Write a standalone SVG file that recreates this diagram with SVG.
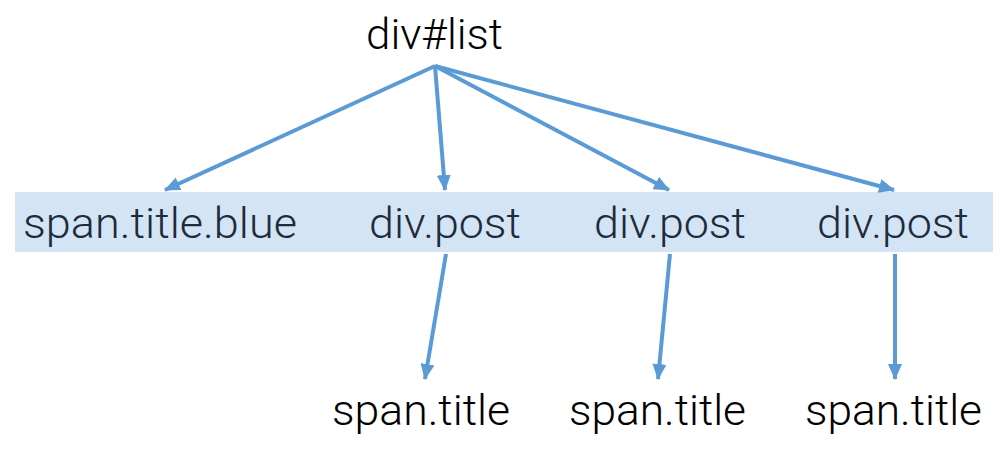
<svg xmlns="http://www.w3.org/2000/svg" width="1006" height="452" viewBox="0 0 1006 452">
<defs>
<marker id="ah" markerUnits="userSpaceOnUse" markerWidth="16" markerHeight="14" refX="15" refY="7" orient="auto">
<path d="M0,0 L16,7 L0,14 Z" fill="#5b9bd5"/>
</marker>
<style>
.t{font-family:Roboto,"Liberation Sans",Arial,sans-serif;font-size:42px;font-weight:300}
.band{fill:#1e2b3a}
.plain{fill:#000}
.e{stroke:#5b9bd5;stroke-width:4;fill:none;marker-end:url(#ah)}
</style>
</defs>
<rect x="15" y="192" width="978" height="60" fill="#d3e4f4"/>
<g id="connectors">
<line class="e" x1="435" y1="66" x2="165" y2="190"/>
<line class="e" x1="435" y1="66" x2="445" y2="190"/>
<line class="e" x1="435" y1="66" x2="669" y2="190"/>
<line class="e" x1="435" y1="66" x2="894" y2="190"/>
<line class="e" x1="446" y1="254" x2="425" y2="379"/>
<line class="e" x1="670" y1="254" x2="658" y2="379"/>
<line class="e" x1="895" y1="254" x2="895" y2="379"/>
</g>
<g id="n-list"><text class="t plain" x="366" y="49" textLength="137" lengthAdjust="spacingAndGlyphs">div#list</text></g>
<g id="n-blue"><text class="t band" x="23" y="238" textLength="274" lengthAdjust="spacingAndGlyphs">span.title.blue</text></g>
<g id="n-post1"><text class="t band" x="369" y="238" textLength="152" lengthAdjust="spacingAndGlyphs">div.post</text></g>
<g id="n-post2"><text class="t band" x="594" y="238" textLength="152" lengthAdjust="spacingAndGlyphs">div.post</text></g>
<g id="n-post3"><text class="t band" x="817" y="238" textLength="152" lengthAdjust="spacingAndGlyphs">div.post</text></g>
<g id="n-span1"><text class="t plain" x="332" y="425" textLength="178" lengthAdjust="spacingAndGlyphs">span.title</text></g>
<g id="n-span2"><text class="t plain" x="569" y="425" textLength="177" lengthAdjust="spacingAndGlyphs">span.title</text></g>
<g id="n-span3"><text class="t plain" x="805" y="425" textLength="177" lengthAdjust="spacingAndGlyphs">span.title</text></g>
</svg>
